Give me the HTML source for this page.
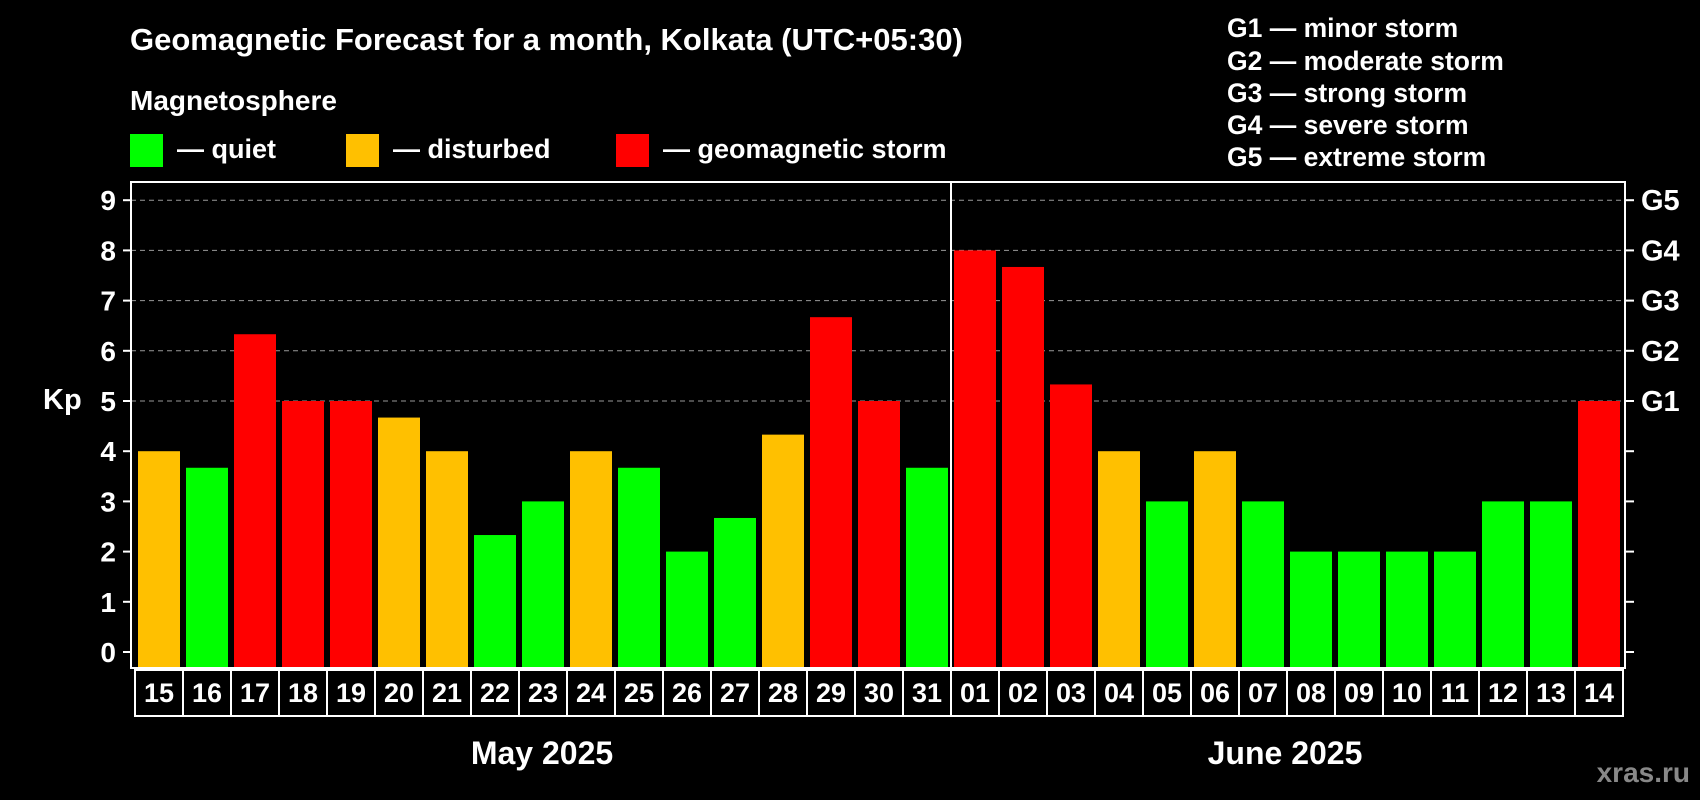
<!DOCTYPE html>
<html><head><meta charset="utf-8"><style>
html,body{margin:0;padding:0;background:#000;}
svg{display:block;font-family:"Liberation Sans",Arial,sans-serif;font-weight:bold;}
</style></head><body>
<svg id="c" width="1700" height="800" viewBox="0 0 1700 800">
<rect width="1700" height="800" fill="#000"/>
<text x="130" y="50" fill="#fff" font-size="31">Geomagnetic Forecast for a month, Kolkata (UTC+05:30)</text>
<text x="130" y="110" fill="#fff" font-size="28">Magnetosphere</text>
<g><rect x="130" y="134" width="33" height="33" fill="#00ff00"/><text x="177" y="158" fill="#fff" font-size="27">— quiet</text></g>
<g><rect x="346" y="134" width="33" height="33" fill="#ffc000"/><text x="393" y="158" fill="#fff" font-size="27">— disturbed</text></g>
<g><rect x="616" y="134" width="33" height="33" fill="#ff0000"/><text x="663" y="158" fill="#fff" font-size="27">— geomagnetic storm</text></g>
<g fill="#fff" font-size="26.5">
<text x="1227" y="37">G1 — minor storm</text>
<text x="1227" y="70">G2 — moderate storm</text>
<text x="1227" y="102">G3 — strong storm</text>
<text x="1227" y="134">G4 — severe storm</text>
<text x="1227" y="166">G5 — extreme storm</text>
</g>
<text x="43" y="409" fill="#fff" font-size="29">Kp</text>
<g id="plot"></g>
<text x="542" y="764" fill="#fff" font-size="32" text-anchor="middle">May 2025</text>
<text x="1285" y="764" fill="#fff" font-size="32" text-anchor="middle">June 2025</text>
<text x="1690" y="782" fill="#888" font-size="28" text-anchor="end">xras.ru</text>
</svg>
<script>
const days = ["15","16","17","18","19","20","21","22","23","24","25","26","27","28","29","30","31","01","02","03","04","05","06","07","08","09","10","11","12","13","14"];
const kpValues = [4,3.67,6.33,5,5,4.67,4,2.33,3,4,3.67,2,2.67,4.33,6.67,5,3.67,8,7.67,5.33,4,3,4,3,2,2,2,2,3,3,5];
const yTicks = [0,1,2,3,4,5,6,7,8,9];
const gLabels = ["G1","G2","G3","G4","G5"];
const gLevels = [5,6,7,8,9];
const NS="http://www.w3.org/2000/svg";
const plot=document.getElementById('plot');
const L=131,R=1625,T=182,B=668,slot0=135,slotW=48,barW=42;
function y(v){return 652-50.2*v;}
function x(i){return slot0+i*slotW;}
function mk(tag,a,p){const e=document.createElementNS(NS,tag);for(const k in a)e.setAttribute(k,a[k]);(p||plot).appendChild(e);return e;}
function color(v){return v>=5?"#ff0000":(v>=4?"#ffc000":"#00ff00");}
gLevels.forEach(v=>{const g=mk('line',{x1:L,x2:R,y1:y(v),y2:y(v),stroke:'#999','stroke-dasharray':'5,4','stroke-width':1});

});
kpValues.forEach((v,i)=>{const b=mk('rect',{x:x(i)+3,y:y(v),width:barW,height:B-y(v),fill:color(v)});


const bx=mk('rect',{x:x(i),y:670,width:slotW,height:46,fill:'none',stroke:'#fff','stroke-width':2});


const t=mk('text',{x:x(i)+slotW/2,y:702,fill:'#fff','font-size':27,'text-anchor':'middle'});t.textContent=days[i];

});
const fr=mk('rect',{x:L,y:T,width:R-L,height:B-T,fill:'none',stroke:'#fff','stroke-width':2});


const dv=mk('line',{x1:x(17),x2:x(17),y1:T,y2:B,stroke:'#fff','stroke-width':2});


yTicks.forEach(v=>{mk('line',{x1:123,x2:L,y1:y(v),y2:y(v),stroke:'#fff','stroke-width':2});
mk('line',{x1:R,x2:1634,y1:y(v),y2:y(v),stroke:'#fff','stroke-width':2});
const t=mk('text',{x:116,y:y(v)+10,fill:'#fff','font-size':28,'text-anchor':'end'});t.textContent=v;

});
gLevels.forEach((v,i)=>{const t=mk('text',{x:1641,y:y(v)+10,fill:'#fff','font-size':29});t.textContent=gLabels[i];

});
</script>
</body></html>
